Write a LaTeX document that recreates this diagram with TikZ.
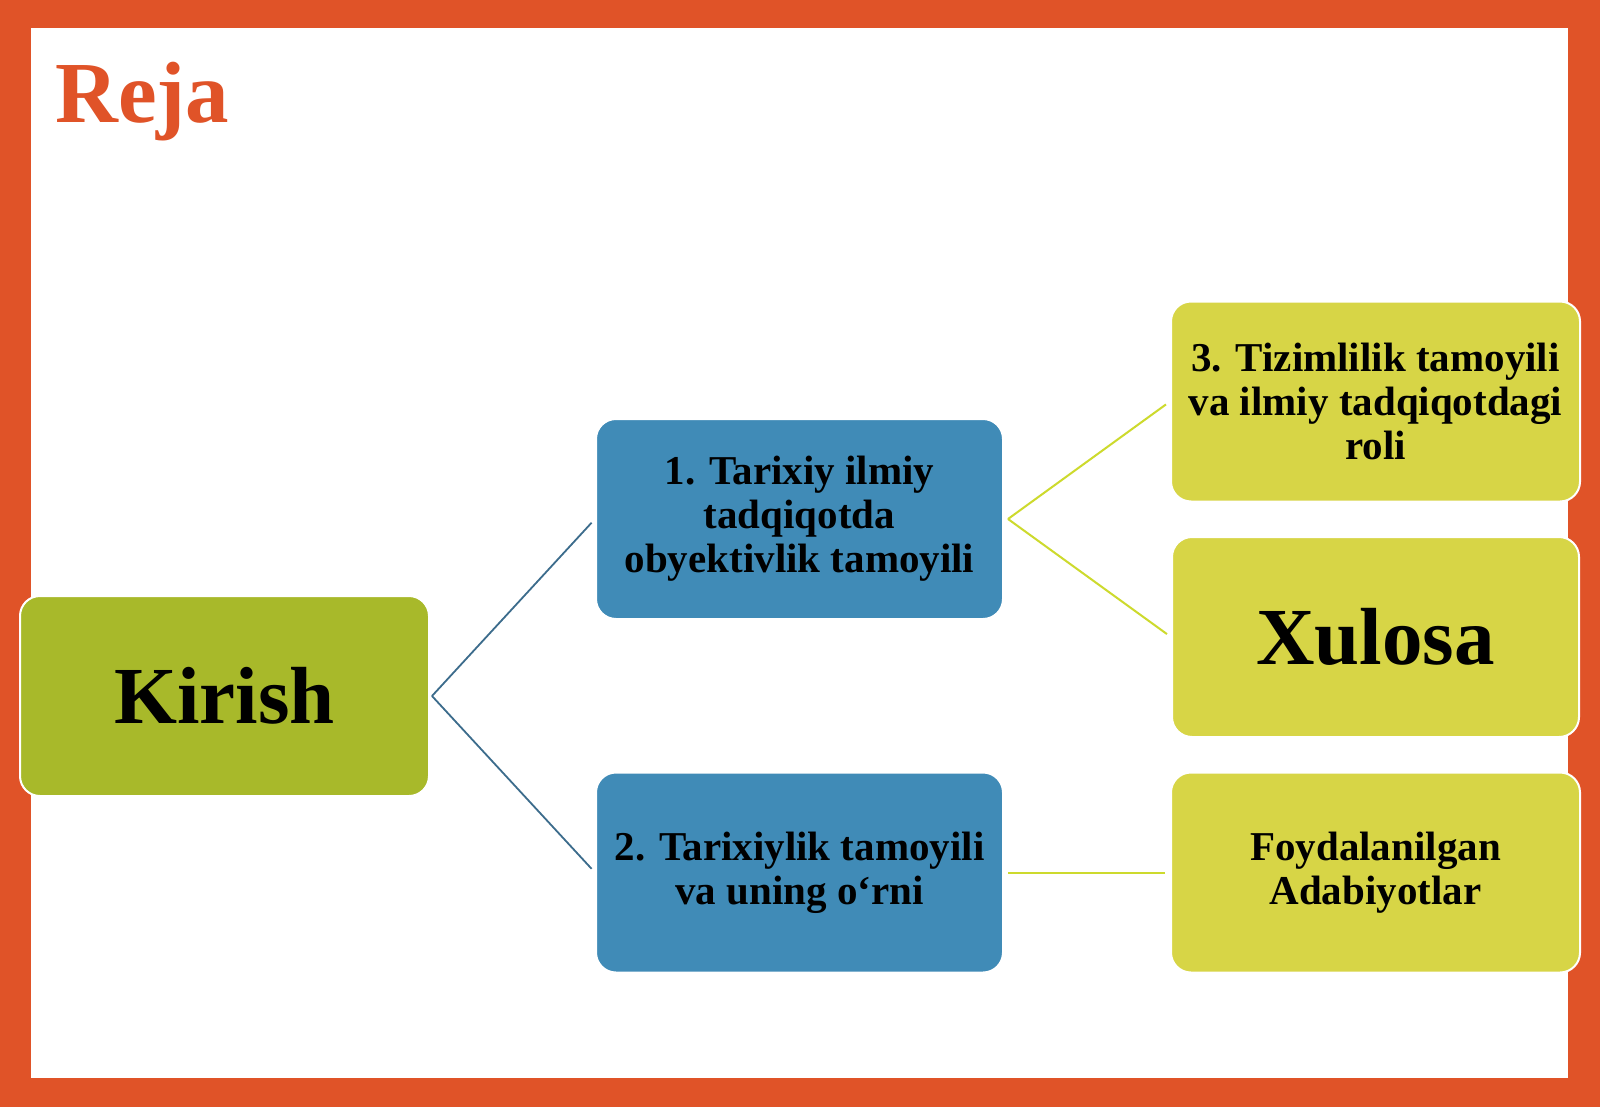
\documentclass[tikz,border=0pt]{standalone}
\usepackage{fontspec}
\setmainfont{Liberation Serif}
\definecolor{frameorange}{RGB}{224,83,40}
\definecolor{kirishgreen}{RGB}{168,185,42}
\definecolor{stepblue}{RGB}{64,139,183}
\definecolor{sideyellow}{RGB}{215,213,70}
\definecolor{linkblue}{RGB}{60,108,140}
\definecolor{linkyellow}{RGB}{205,218,45}
\begin{document}
\begin{tikzpicture}[x=1pt, y=-1pt,
    planbox/.style={rectangle, rounded corners=20pt, draw=white, line width=2pt,
      minimum width=407pt, minimum height=200pt, inner sep=0pt, align=center,
      text=black, font=\fontsize{41}{44}\selectfont\bfseries},
    bigbox/.style={planbox, font=\fontsize{81}{88}\selectfont\bfseries},
    bluelink/.style={draw=linkblue, line width=1.8pt, shorten >=5pt},
    yellowlink/.style={draw=linkyellow, line width=2pt, shorten >=5pt}]
    \useasboundingbox (0,0) rectangle (1600,1107);
    % frame
    \fill[frameorange] (0,0) rectangle (1600,1107);
    \fill[white] (31,28) rectangle (1568,1078);
    \node[anchor=base west, text=frameorange, inner sep=0pt,
      font=\fontsize{87}{90}\selectfont\bfseries] (reja) at (55,123) {Reja};
    % boxes
    \node[bigbox, fill=kirishgreen, minimum width=409pt] (kirish) at (224.5,696) {Kirish};
    \node[planbox, fill=stepblue] (tarixiy) at (799.5,519) {1. Tarixiy ilmiy\\tadqiqotda\\obyektivlik tamoyili};
    \node[planbox, fill=stepblue] (tarixiylik) at (799.5,872.5) {2. Tarixiylik tamoyili\\va uning o‘rni};
    \node[planbox, fill=sideyellow, minimum width=409pt] (tizim) at (1375.5,401.5) {3. Tizimlilik tamoyili\\va ilmiy tadqiqotdagi\\roli};
    \node[bigbox, fill=sideyellow] (xulosa) at (1375.5,637) {Xulosa};
    \node[planbox, fill=sideyellow, minimum width=409pt] (adabiyot) at (1375.5,872.5) {Foydalanilgan\\Adabiyotlar};
    % forks
    \coordinate (kfork) at ([xshift=2pt]kirish.east);
    \coordinate (tfork) at ([xshift=4pt]tarixiy.east);
    \coordinate (lfork) at ([xshift=4pt]tarixiylik.east);
    % links
    \draw[bluelink] (kfork) -- (tarixiy.west);
    \draw[bluelink] (kfork) -- (tarixiylik.west);
    \draw[yellowlink] (tfork) -- (tizim.west);
    \draw[yellowlink] (tfork) -- (xulosa.west);
    \draw[yellowlink] (lfork) -- (adabiyot.west);
\end{tikzpicture}
\end{document}
